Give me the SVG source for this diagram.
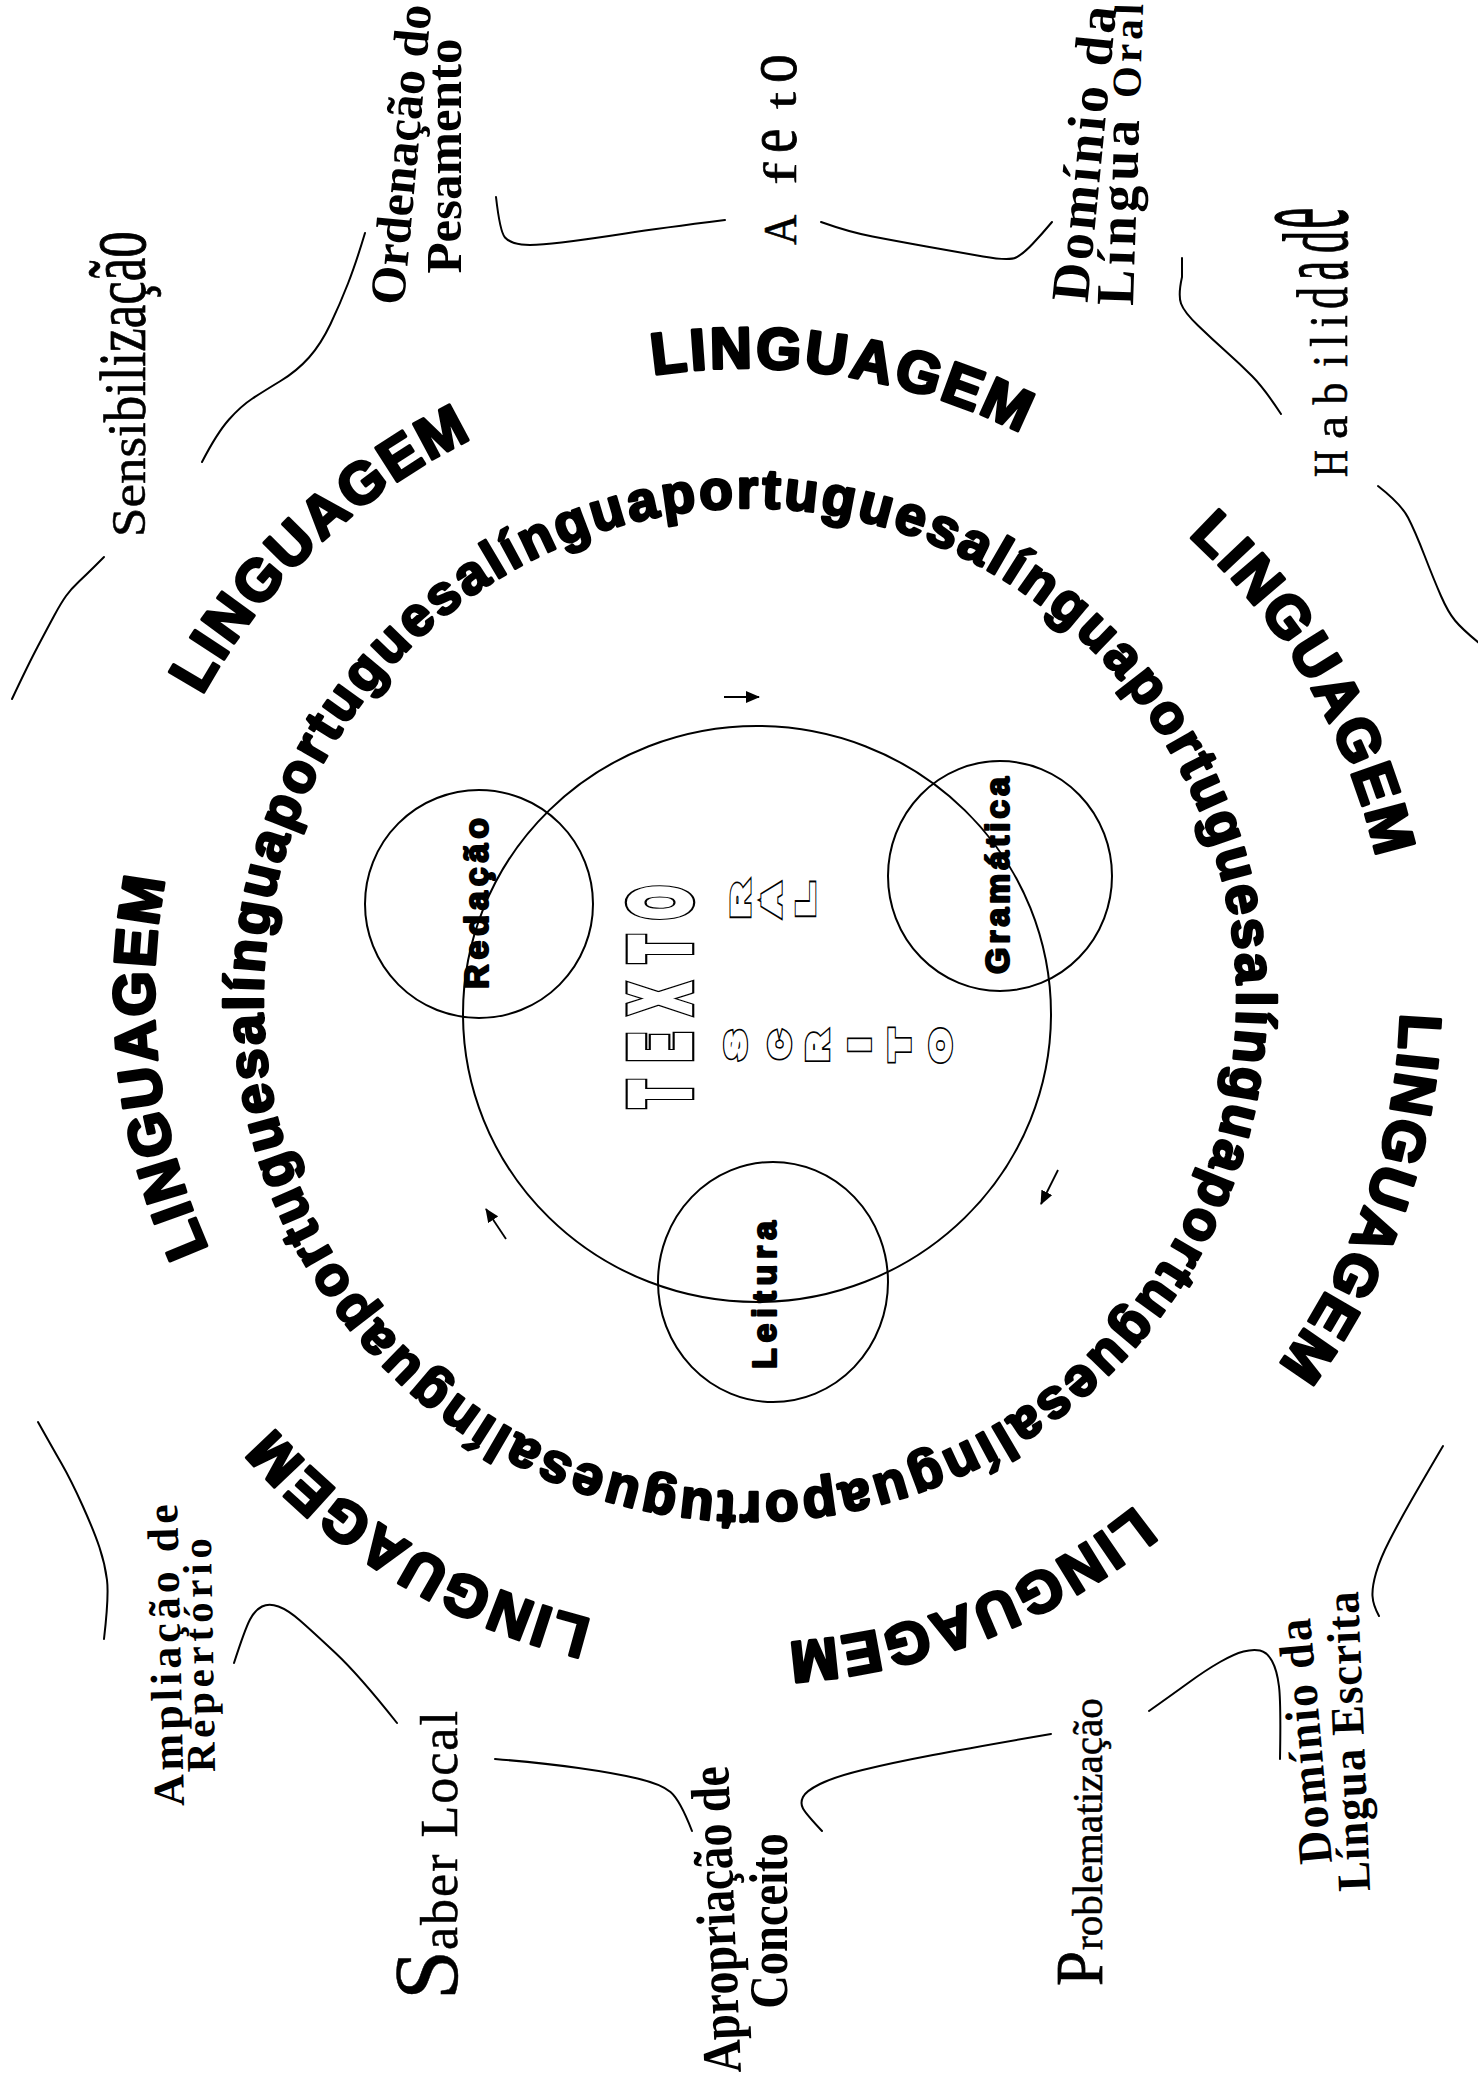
<svg xmlns="http://www.w3.org/2000/svg" width="1478" height="2078" viewBox="0 0 1478 2078">
<style>
.ln{fill:none;stroke:#000;stroke-width:2;stroke-linecap:round;stroke-linejoin:round}
.ring{font-family:"Liberation Sans",Arial,sans-serif;font-weight:bold;fill:#000;stroke:#000;stroke-linejoin:round}
.lg{font-size:58px;letter-spacing:3px;stroke-width:3.2}
.lp{font-size:55px;letter-spacing:3.1px;stroke-width:2.8}
.sb{font-family:"Liberation Serif","Times New Roman",serif;font-weight:bold;fill:#000;text-anchor:middle}
.sr{font-family:"Liberation Serif","Times New Roman",serif;fill:#000;stroke:#000;stroke-width:0.5}
.cl{font-family:"Liberation Sans",Arial,sans-serif;font-weight:bold;font-size:34px;fill:#000;stroke:#000;stroke-width:2.2;stroke-linejoin:round}
.ox{font-family:"Liberation Sans",Arial,sans-serif;font-weight:bold;text-anchor:middle}
.k9{fill:none;stroke:#000;stroke-width:10}
.w6{fill:#fff;stroke:#fff;stroke-width:6.5}
.k7{fill:none;stroke:#000;stroke-width:7.5}
.w4{fill:#fff;stroke:#fff;stroke-width:4.5}
.circ{fill:none;stroke:#000;stroke-width:2}
.arr{fill:none;stroke:#000;stroke-width:1.8}
</style>
<defs>
<marker id="ah" viewBox="0 0 14 12" refX="13" refY="6" markerWidth="14" markerHeight="12" markerUnits="userSpaceOnUse" orient="auto"><path d="M0,0 L14,6 L0,12 z" fill="#000"/></marker>
<path id="ringO" d="M162.4,782.9 A620,620 0 1 1 1327.6,1207.1 A620,620 0 1 1 162.4,782.9"/>
<path id="ringI" d="M1236.93,991.41 A487,492 0 1 1 263.07,1008.59 A487,492 0 1 1 1236.93,991.41"/>
<g id="txBig" class="ox" font-size="82">
<text vector-effect="non-scaling-stroke" transform="translate(687.5,1094) rotate(-90) scale(0.5,1)">T</text>
<text vector-effect="non-scaling-stroke" transform="translate(687.5,1047) rotate(-90) scale(0.5,1)">E</text>
<text vector-effect="non-scaling-stroke" transform="translate(687.5,998.5) rotate(-90) scale(0.5,1)">X</text>
<text vector-effect="non-scaling-stroke" transform="translate(687.5,949) rotate(-90) scale(0.5,1)">T</text>
<text vector-effect="non-scaling-stroke" transform="translate(687.5,902.5) rotate(-90) scale(0.5,1)">O</text>
</g>
<g id="txSm" class="ox">
<text font-size="24" vector-effect="non-scaling-stroke" transform="translate(749,900) rotate(-90) scale(1.9,1)">R</text>
<text font-size="24" vector-effect="non-scaling-stroke" transform="translate(780,900) rotate(-90) scale(1.75,1)">A</text>
<text font-size="24" vector-effect="non-scaling-stroke" transform="translate(814,900) rotate(-90) scale(2.2,1)">L</text>
<text font-size="28" vector-effect="non-scaling-stroke" transform="translate(745,1045) rotate(-90) scale(1.43,1)">S</text>
<text font-size="28" vector-effect="non-scaling-stroke" transform="translate(789,1045) rotate(-90) scale(1.26,1)">C</text>
<text font-size="28" vector-effect="non-scaling-stroke" transform="translate(827,1047) rotate(-90) scale(1.32,1)">R</text>
<text font-size="28" vector-effect="non-scaling-stroke" transform="translate(869,1045) rotate(-90) scale(1.5,1)">I</text>
<text font-size="28" vector-effect="non-scaling-stroke" transform="translate(909,1045) rotate(-90) scale(1.7,1)">T</text>
<text font-size="28" vector-effect="non-scaling-stroke" transform="translate(950,1045.5) rotate(-90) scale(1.45,1)">O</text>
</g>
</defs>
<rect width="1478" height="2078" fill="#fff"/>

<g id="connectors">
<path class="ln" d="M12,699 Q28,665 37.5,647 Q47,629 54,616 Q61,603 66,596 Q71,589 79,581.5 Q87,574 95.5,565.5 L104,557"/>
<path class="ln" d="M202,462 Q217,433 229,419.5 Q241,406 252.5,398.5 Q264,391 280.5,381 Q297,371 309,357.5 Q321,344 330.5,324 Q340,304 348,283.5 Q356,263 365,233"/>
<path class="ln" d="M496,197 Q500,232 505,237.5 Q510,243 521.5,244.5 Q533,246 561.5,242.5 Q590,239 625.5,233.5 Q661,228 725,220"/>
<path class="ln" d="M821,222 Q849,232 872.5,236.5 Q896,241 926.5,246.5 Q957,252 983,256.5 Q1009,261 1016,257.5 Q1023,254 1032.5,244 Q1042,234 1052,222"/>
<path class="ln" d="M1182,258 L1182,277 Q1178,295 1181,303.5 Q1184,312 1198,325.5 Q1212,339 1226,351.5 Q1240,364 1252,376 Q1264,388 1281,414"/>
<path class="ln" d="M1378,486 Q1401,504 1408,517.5 Q1415,531 1424.5,555.5 Q1434,580 1441,596 Q1448,612 1455,620.5 Q1462,629 1479,643"/>
<path class="ln" d="M1443,1446 Q1423,1480 1411,1501 Q1399,1522 1389.5,1540.5 Q1380,1559 1376,1573 Q1372,1587 1372.5,1596 Q1373,1605 1379,1616"/>
<path class="ln" d="M1280,1759 Q1281,1703 1279,1686.5 Q1277,1670 1272,1661 Q1267,1652 1260,1650.5 Q1253,1649 1243.5,1651.5 Q1234,1654 1220,1662 Q1206,1670 1189.5,1682 Q1173,1694 1149,1711"/>
<path class="ln" d="M1051,1734 Q975,1747 933,1755 Q891,1763 862.5,1770 Q834,1777 820,1784 Q806,1791 803,1797 Q800,1803 803,1808.5 Q806,1814 822,1831"/>
<path class="ln" d="M495,1759 Q543,1763 578.5,1768 Q614,1773 637.5,1778.5 Q661,1784 670.5,1792 Q680,1800 692,1831"/>
<path class="ln" d="M397,1723 Q359,1675 335.5,1653 Q312,1631 300,1620.5 Q288,1610 278.5,1606.5 Q269,1603 262,1606.5 Q255,1610 250,1619.5 Q245,1629 234,1663"/>
<path class="ln" d="M104,1639 Q109,1596 107,1580 Q105,1564 99.5,1547.5 Q94,1531 82.5,1505.5 Q71,1480 61.5,1463.5 Q52,1447 38,1422"/>
<path class="arr" d="M724,697 L759,697" marker-end="url(#ah)"/>
<path class="arr" d="M1058,1170 L1041,1204" marker-end="url(#ah)"/>
<path class="arr" d="M506,1239 L486,1209" marker-end="url(#ah)"/>
</g>

<g id="circles">
<ellipse id="texto-circle" class="circ" cx="757" cy="1014" rx="294" ry="288"/>
<ellipse id="redacao-circle" class="circ" cx="479" cy="904" rx="114" ry="114"/>
<ellipse id="gramatica-circle" class="circ" cx="1000" cy="876" rx="112" ry="115"/>
<ellipse id="leitura-circle" class="circ" cx="773" cy="1282" rx="115" ry="120"/>
</g>

<g id="redacao"><text class="cl" transform="translate(488,989) rotate(-90)" textLength="171" lengthAdjust="spacing">Redação</text></g>
<g id="gramatica"><text class="cl" transform="translate(1009,974) rotate(-90)" textLength="197" lengthAdjust="spacing">Gramática</text></g>
<g id="leitura"><text class="cl" transform="translate(776,1369) rotate(-90)" textLength="148" lengthAdjust="spacing">Leitura</text></g>

<g id="texto">
<use href="#txBig" class="k9"/>
<use href="#txBig" class="w6"/>
<use href="#txSm" class="k7"/>
<use href="#txSm" class="w4"/>
</g>

<g id="lingua-portuguesa-ring">
<text class="ring lp"><textPath href="#ringI" startOffset="0" textLength="3072" lengthAdjust="spacing">línguaportuguesalínguaportuguesalínguaportuguesalínguaportuguesalínguaportuguesalínguaportuguesa</textPath></text>
</g>

<g id="linguagem-ring">
<text class="ring lg" text-anchor="middle"><textPath href="#ringO" startOffset="286.8">LINGUAGEM</textPath></text>
<text class="ring lg" text-anchor="middle" transform="translate(0,-7)"><textPath href="#ringO" startOffset="855.9">LINGUAGEM</textPath></text>
<text class="ring lg" text-anchor="middle" transform="translate(27,0)"><textPath href="#ringO" startOffset="1404.6">LINGUAGEM</textPath></text>
<text class="ring lg" text-anchor="middle" transform="translate(36,0)"><textPath href="#ringO" startOffset="1940.2">LINGUAGEM</textPath></text>
<text class="ring lg" text-anchor="middle" transform="translate(0,29)"><textPath href="#ringO" startOffset="2473.7">LINGUAGEM</textPath></text>
<text class="ring lg" text-anchor="middle" transform="translate(-7,22)"><textPath href="#ringO" startOffset="3042.9">LINGUAGEM</textPath></text>
<text class="ring lg" text-anchor="middle" transform="translate(29,0)"><textPath href="#ringO" startOffset="3607.7">LINGUAGEM</textPath></text>
</g>

<g id="sensibilizacao" class="sr" font-size="48" transform="translate(145,537) rotate(-90)">
<text transform="scale(1.1,1)">S</text>
<text transform="translate(29.4,0) scale(1.1,1)">e</text>
<text transform="translate(52.9,0) scale(1.1,1.05)">n</text>
<text transform="translate(79.4,0) scale(1.1,1.05)">s</text>
<text transform="translate(100,0) scale(1.1,1.15)">i</text>
<text transform="translate(114.7,0) scale(1.1,1.25)">b</text>
<text transform="translate(141.1,0) scale(1.1,1.25)">i</text>
<text transform="translate(155.8,0) scale(1.1,1.35)">l</text>
<text transform="translate(170.5,0) scale(1.1,1.4)">i</text>
<text transform="translate(185.2,0) scale(1.1,1.55)">z</text>
<text transform="translate(208.7,0) scale(1.1,1.5)">a</text>
<text transform="translate(232.3,0) scale(1.1,1.55)">ç</text>
<text transform="translate(255.8,0) scale(1.1,1.7)">ã</text>
<text transform="translate(279.3,0) scale(1.1,2)">o</text>
</g>

<g id="ordenacao" class="sb">
<text font-size="50" transform="translate(417.5,156) rotate(-84.7)">Ordenação do</text>
<text font-size="51" transform="translate(461,156) rotate(-90)">Pesamento</text>
</g>

<g id="afeto" class="sr" font-size="42" transform="translate(796,245) rotate(-90)">
<text transform="scale(1,1.1)">A</text>
<text transform="translate(60,0) scale(1.6,1.1)">f</text>
<text transform="translate(92,0) scale(1.3,1.7)">e</text>
<text transform="translate(136,0) scale(1.45,1.05)">t</text>
<text transform="translate(162,0) scale(1.38,1.75)">o</text>
</g>

<g id="dominio-oral" class="sb">
<text font-size="54" textLength="297" lengthAdjust="spacing" transform="translate(1102,155.5) rotate(-84.4)">Domínio da</text>
<text font-size="54" textLength="302" lengthAdjust="spacing" transform="translate(1138,155) rotate(-88.1)">Língua <tspan font-size="41">Oral</tspan></text>
</g>

<g id="habilidade" class="sr" font-size="44" transform="translate(1347,477) rotate(-90)">
<text transform="scale(0.85,1.1)">H</text>
<text transform="translate(38,0) scale(1.2,1.1)">a</text>
<text transform="translate(72.5,0) scale(1,1.1)">b</text>
<text transform="translate(110,0) scale(1,1.15)">i</text>
<text transform="translate(130,0) scale(1,1.2)">l</text>
<text transform="translate(149.5,0) scale(1,1.25)">i</text>
<text transform="translate(168,0) scale(1,1.65)">d</text>
<text transform="translate(196.5,0) scale(1,2.3)">a</text>
<text transform="translate(224,0) scale(1,2.1)">d</text>
<text transform="translate(248.5,0) scale(1.05,3.4)">e</text>
</g>

<g id="ampliacao" class="sb">
<text font-size="44" textLength="302" lengthAdjust="spacing" transform="translate(180.5,1655) rotate(-91.3)">Ampliação de</text>
<text font-size="41" textLength="234" lengthAdjust="spacing" transform="translate(213,1655) rotate(-91)">Repertório</text>
</g>

<g id="saber-local" class="sr" transform="translate(457,2000) rotate(-90)">
<text font-size="90">S</text>
<text font-size="52" x="50" letter-spacing="2">aber Local</text>
</g>

<g id="apropriacao" class="sb">
<text font-size="46" transform="translate(734.5,1919) rotate(-92.4) scale(1,1.2)">Apropriação de</text>
<text font-size="46.5" transform="translate(787,1921) rotate(-90) scale(1,1.2)">Conceito</text>
</g>

<g id="problematizacao" class="sr" font-size="42" transform="translate(1102,1986) rotate(-90)">
<text transform="scale(1.5,1.6)">P</text>
<text x="36" textLength="252" lengthAdjust="spacingAndGlyphs">roblematização</text>
</g>

<g id="dominio-escrita" class="sb">
<text font-size="46" textLength="246" lengthAdjust="spacing" transform="translate(1321,1740) rotate(-95.1) scale(1,1.05)">Domínio da</text>
<text font-size="45" textLength="300" lengthAdjust="spacing" transform="translate(1364,1741) rotate(-92.3) scale(1,1.05)">Língua Escrita</text>
</g>
</svg>
